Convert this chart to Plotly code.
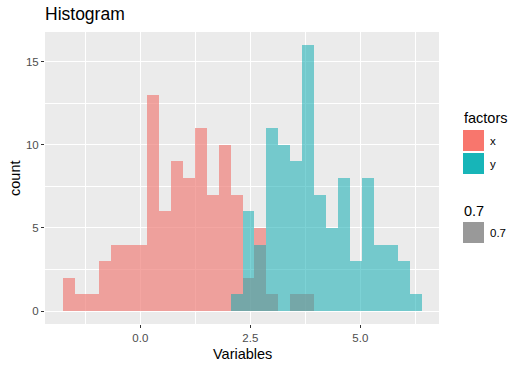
import plotly.graph_objects as go

# ---- data ----
bin_start = -1.757
bin_width = 0.272
counts_x = [2, 1, 1, 3, 4, 4, 4, 13, 6, 9, 8, 11, 7, 10, 7, 2, 5, 1, 0, 1, 1,
            0, 0, 0, 0, 0, 0, 0, 0, 0]
counts_y = [0, 0, 0, 0, 0, 0, 0, 0, 0, 0, 0, 0, 0, 0, 1, 6, 4, 11, 10, 9, 16,
            7, 5, 8, 3, 8, 4, 4, 3, 1]
series_names = ["x", "y"]
x_ticks = [0.0, 2.5, 5.0]
x_tick_labels = ["0.0", "2.5", "5.0"]
y_ticks = [0, 5, 10, 15]

centers = [bin_start + (i + 0.5) * bin_width for i in range(len(counts_x))]

FONT = "Liberation Sans, Arial, Helvetica, sans-serif"
RED_BAR = "rgba(240,128,122,0.7)"
TEAL_BAR = "rgba(19,173,179,0.55)"
RED_KEY = "#F8766D"
TEAL_KEY = "#17B5B8"
GRAY_KEY = "#999999"

fig = go.Figure()
fig.add_trace(go.Bar(x=centers, y=counts_x, width=bin_width, name=series_names[0],
                     marker=dict(color=RED_BAR, line=dict(width=0)), showlegend=False))
fig.add_trace(go.Bar(x=centers, y=counts_y, width=bin_width, name=series_names[1],
                     marker=dict(color=TEAL_BAR, line=dict(width=0)), showlegend=False))

# pixel -> paper helpers for the manual legend and axis titles
L, R, T, B = 45, 439, 32, 324
def px(xp):
    return (xp - L) / (R - L)
def py(yp):
    return (B - yp) / (B - T)

shapes = []
annotations = []
# axis titles
annotations.append(dict(text="Variables", x=px(242), y=py(354), xref="paper", yref="paper",
                        xanchor="center", yanchor="middle", showarrow=False,
                        font=dict(family=FONT, size=14.5, color="black")))
annotations.append(dict(text="count", x=px(15), y=py(178), xref="paper", yref="paper",
                        xanchor="center", yanchor="middle", showarrow=False, textangle=-90,
                        font=dict(family=FONT, size=14.5, color="black")))
# legend "factors"
annotations.append(dict(text="factors", x=px(462), y=py(118), xref="paper", yref="paper",
                        xanchor="left", yanchor="middle", showarrow=False,
                        font=dict(family=FONT, size=14.5, color="black")))
for (y0, y1, col, lab) in [(130, 151, RED_KEY, series_names[0]), (153, 174, TEAL_KEY, series_names[1])]:
    shapes.append(dict(type="rect", xref="paper", yref="paper", x0=px(463), x1=px(484),
                       y0=py(y1), y1=py(y0), fillcolor=col, line=dict(width=0)))
    annotations.append(dict(text=lab, x=px(488), y=py((y0 + y1) / 2), xref="paper", yref="paper",
                            xanchor="left", yanchor="middle", showarrow=False,
                            font=dict(family=FONT, size=11.5, color="black")))
# legend "0.7"
annotations.append(dict(text="0.7", x=px(462), y=py(211), xref="paper", yref="paper",
                        xanchor="left", yanchor="middle", showarrow=False,
                        font=dict(family=FONT, size=14.5, color="black")))
shapes.append(dict(type="rect", xref="paper", yref="paper", x0=px(463), x1=px(484),
                   y0=py(243), y1=py(222), fillcolor=GRAY_KEY, line=dict(width=0)))
annotations.append(dict(text="0.7", x=px(488), y=py(232.5), xref="paper", yref="paper",
                        xanchor="left", yanchor="middle", showarrow=False,
                        font=dict(family=FONT, size=11.5, color="black")))

fig.update_layout(
    width=521, height=365, autosize=False,
    margin=dict(l=L, r=521 - R, t=T, b=365 - B, pad=0, autoexpand=False),
    paper_bgcolor="white", plot_bgcolor="#EBEBEB",
    barmode="overlay", bargap=0,
    font=dict(family=FONT),
    title=dict(text="Histogram", x=px(45), xref="paper", xanchor="left",
               y=1 - 14 / 365, yref="container", yanchor="middle",
               font=dict(family=FONT, size=17.5, color="black")),
    shapes=shapes, annotations=annotations,
    showlegend=False,
)
fig.update_xaxes(
    range=[-2.166, 6.789], tickmode="array", tickvals=x_ticks, ticktext=x_tick_labels,
    showgrid=True, gridcolor="white", gridwidth=1.1, zeroline=False, automargin=False,
    minor=dict(dtick=1.25, tick0=1.25, showgrid=True, gridcolor="white", gridwidth=0.5, ticklen=0),
    ticks="outside", ticklen=3, tickcolor="#333333", tickwidth=1,
    tickfont=dict(family=FONT, size=11.5, color="#4D4D4D"),
    showline=False,
)
fig.update_yaxes(
    range=[-0.78, 16.78], tickmode="array", tickvals=y_ticks,
    showgrid=True, gridcolor="white", gridwidth=1.1, zeroline=False, automargin=False,
    minor=dict(dtick=2.5, tick0=2.5, showgrid=True, gridcolor="white", gridwidth=0.5, ticklen=0),
    ticks="outside", ticklen=3, tickcolor="#333333", tickwidth=1,
    tickfont=dict(family=FONT, size=11.5, color="#4D4D4D"),
    showline=False,
)

fig.write_html("out.html", config={"displayModeBar": False},
               post_script="document.body.style.margin='0';document.body.style.overflow='hidden';")
